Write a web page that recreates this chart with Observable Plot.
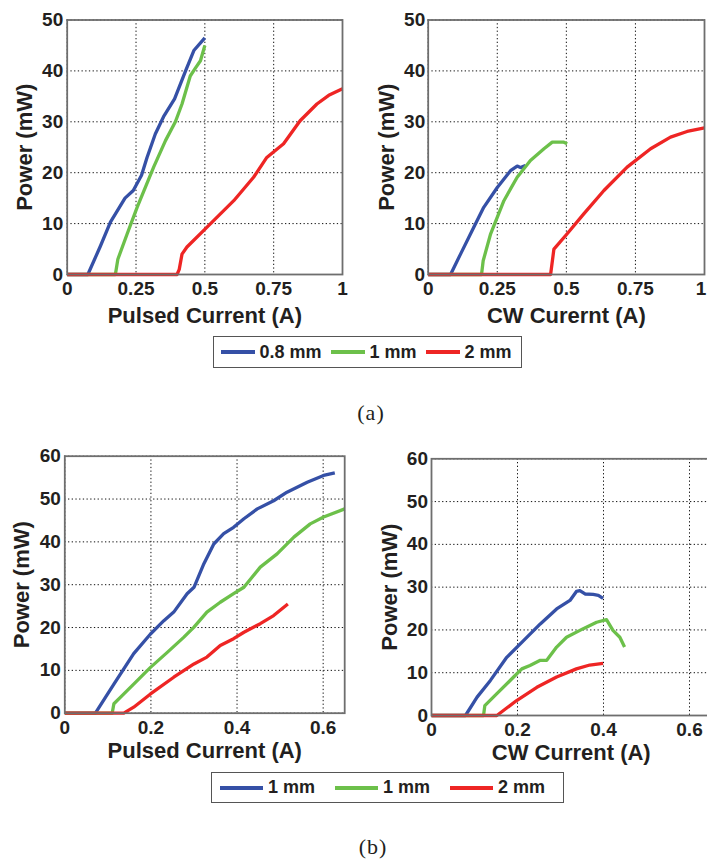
<!DOCTYPE html>
<html>
<head>
<meta charset="utf-8">
<script src="https://cdn.jsdelivr.net/npm/d3@7"></script>
<script src="https://cdn.jsdelivr.net/npm/@observablehq/plot@0.6"></script>
<style>
  html, body { margin: 0; padding: 0; background: #fff; overflow: hidden; }
  #page { position: relative; width: 707px; height: 859px; overflow: hidden; background: #fff;
          font-family: "Liberation Sans", Arial, sans-serif; color: #231f20; }
  .panel { position: absolute; }
  .legend { position: absolute; box-sizing: border-box; border: 1.6px solid #555; background: #fff;
            display: flex; align-items: center; font-weight: bold; font-size: 18px; }
  .legend .sw { display: inline-block; height: 4px; }
  .caption { position: absolute; font-family: "Liberation Serif", "Times New Roman", serif; font-size: 22px;
             transform: translate(-50%, -50%); color: #231f20; letter-spacing: 1px; }
</style>
</head>
<body>
<div id="page"></div>
<script>
// ---------- data ----------
const seriesNamesA = ["0.8 mm", "1 mm", "2 mm"];
const seriesNamesB = ["1 mm", "1 mm", "2 mm"];

const xTicksA = [0, 0.25, 0.5, 0.75, 1];
const xTickLabelsA = ["0", "0.25", "0.5", "0.75", "1"];
const yTicksA = [0, 10, 20, 30, 40, 50];
const xTicksB = [0, 0.2, 0.4, 0.6];
const xTickLabelsB = ["0", "0.2", "0.4", "0.6"];
const yTicksB = [0, 10, 20, 30, 40, 50, 60];

// (a) pulsed: [current A, power mW]
const aPulsed08 = [[0,0],[0.075,0],[0.12,5.5],[0.157,10.3],[0.21,15],[0.24,16.5],[0.27,19.5],[0.29,23],[0.32,27.6],[0.35,31],[0.39,34.5],[0.43,40],[0.46,44],[0.5,46.5]];
const aPulsed1 = [[0,0],[0.175,0],[0.184,3],[0.218,8],[0.254,13.2],[0.314,21.1],[0.357,26.3],[0.393,30],[0.417,33.5],[0.447,39],[0.465,40.5],[0.484,42],[0.5,45]];
const aPulsed2 = [[0,0],[0.399,0],[0.407,1],[0.417,4],[0.435,5.4],[0.508,9.3],[0.605,14.5],[0.677,19.1],[0.725,23],[0.786,25.7],[0.846,30.2],[0.907,33.5],[0.95,35.2],[1.0,36.5]];
// (a) CW
const aCw08 = [[0,0],[0.081,0],[0.117,4],[0.165,9.3],[0.201,13.2],[0.25,17.1],[0.298,20.4],[0.322,21.3],[0.334,21.0],[0.352,21.4]];
const aCw1 = [[0,0],[0.193,0],[0.199,2.7],[0.226,8],[0.274,14.5],[0.322,19.1],[0.37,22.4],[0.419,24.7],[0.449,26],[0.467,26],[0.491,26],[0.503,25.7]];
const aCw2 = [[0,0],[0.443,0],[0.455,5],[0.503,8],[0.563,11.9],[0.636,16.5],[0.72,21.1],[0.805,24.7],[0.877,27],[0.937,28.1],[1.0,28.8]];
// (b) pulsed
const bPulsed1a = [[0,0],[0.071,0],[0.114,6.8],[0.16,13.9],[0.199,18.5],[0.23,21.6],[0.253,23.6],[0.284,27.9],[0.3,29.4],[0.323,34.9],[0.346,39.5],[0.369,41.9],[0.392,43.4],[0.416,45.4],[0.447,47.7],[0.485,49.6],[0.516,51.6],[0.563,53.9],[0.601,55.5],[0.627,56.1]];
const bPulsed1b = [[0,0],[0.11,0],[0.114,2.2],[0.129,3.7],[0.16,6.8],[0.199,10.7],[0.238,14.2],[0.276,17.7],[0.3,20.1],[0.33,23.6],[0.361,25.9],[0.392,27.9],[0.416,29.4],[0.454,34.1],[0.493,37.2],[0.532,41.1],[0.57,44.2],[0.601,45.8],[0.65,47.7]];
const bPulsed2 = [[0,0],[0.137,0],[0.16,1.4],[0.199,4.5],[0.253,8.4],[0.3,11.5],[0.33,13.1],[0.361,15.8],[0.392,17.4],[0.416,18.9],[0.454,20.9],[0.485,22.8],[0.518,25.5]];
// (b) CW
const bCw1a = [[0,0],[0.079,0],[0.106,4.3],[0.137,8.2],[0.175,13.6],[0.214,17.5],[0.253,21.4],[0.291,24.9],[0.322,26.9],[0.337,29.0],[0.345,29.2],[0.357,28.4],[0.376,28.3],[0.388,28.1],[0.399,27.4]];
const bCw1b = [[0,0],[0.121,0],[0.124,2.3],[0.152,5.1],[0.191,9.0],[0.21,10.9],[0.229,11.7],[0.253,12.9],[0.268,12.9],[0.291,16.0],[0.314,18.3],[0.353,20.3],[0.384,21.8],[0.407,22.4],[0.422,19.9],[0.438,18.3],[0.449,16.0]];
const bCw2 = [[0,0],[0.152,0],[0.198,3.5],[0.245,6.6],[0.291,9.0],[0.337,10.9],[0.368,11.8],[0.399,12.2]];

// ---------- style ----------
const COLORS = ["#3550a6", "#6cc04a", "#ee2524"];
const FONT = "'Liberation Sans', Arial, sans-serif";

const page = document.getElementById("page");

function panel(o) {
  const xLabelMap = new Map(o.xTicks.map((t, i) => [t, o.xTickLabels[i]]));
  const axisOpts = {tickSize: 0, tickPadding: 7, fontSize: 19, fontWeight: "bold", label: null, tickFormat: d => xLabelMap.get(d)};
  const xAxes = o.lastDx
    ? [Plot.axisX(o.xTicks.slice(0, -1), axisOpts),
       Plot.axisX(o.xTicks.slice(-1), {...axisOpts, dx: o.lastDx})]
    : [Plot.axisX(o.xTicks, axisOpts)];
  const marks = [
    Plot.gridX(o.xTicks, {stroke: "#111", strokeOpacity: 1, strokeWidth: 1, strokeDasharray: "1.3,2.4"}),
    Plot.gridY(o.yTicks, {stroke: "#111", strokeOpacity: 1, strokeWidth: 1, strokeDasharray: "1.3,2.4"}),
    ...o.series.map((s, i) => Plot.line(s, {x: d => d[0], y: d => d[1], stroke: COLORS[i], strokeWidth: 3.3, strokeLinejoin: "round", strokeLinecap: "butt"})),
    Plot.frame({stroke: "#6e6e6e", strokeWidth: 1.8}),
    ...xAxes,
    Plot.axisY(o.yTicks, {tickSize: 0, tickPadding: o.yPad, fontSize: 19, fontWeight: "bold", label: null, tickFormat: d => String(d)}),
    Plot.text([o.xLabel], {text: d => d, frameAnchor: "bottom", dy: o.xLabelDy, fontSize: 22, fontWeight: "bold", textAnchor: "middle", lineAnchor: "middle"}),
    Plot.text([o.yLabel], {text: d => d, frameAnchor: "left", dx: -o.yLabelDx, rotate: -90, fontSize: 22, fontWeight: "bold", textAnchor: "middle", lineAnchor: "middle"})
  ];
  const svg = Plot.plot({
    width: o.width, height: o.height,
    marginLeft: o.ml, marginRight: o.mr, marginTop: o.mt, marginBottom: o.mb,
    x: {domain: o.xDomain},
    y: {domain: o.yDomain},
    style: {fontFamily: FONT, color: "#231f20", background: "transparent", overflow: "visible"},
    marks
  });
  svg.classList.add("panel");
  svg.style.left = o.left + "px";
  svg.style.top = o.top + "px";
  page.appendChild(svg);
}

panel({left: 0, top: 0, width: 350, height: 330, ml: 66.7, mr: 8, mt: 19.5, mb: 56,
  xDomain: [0, 1], yDomain: [0, 50], xTicks: xTicksA, xTickLabels: xTickLabelsA, yTicks: yTicksA,
  series: [aPulsed08, aPulsed1, aPulsed2], xLabel: "Pulsed Current (A)", yLabel: "Power (mW)",
  xLabelDy: 41, yLabelDx: 42, yPad: 4});
panel({left: 350, top: 0, width: 357, height: 330, ml: 77.7, mr: 3, mt: 19.5, mb: 56,
  xDomain: [0, 1], yDomain: [0, 50], xTicks: xTicksA, xTickLabels: xTickLabelsA, yTicks: yTicksA,
  series: [aCw08, aCw1, aCw2], xLabel: "CW Curernt (A)", yLabel: "Power (mW)",
  xLabelDy: 41, yLabelDx: 41, yPad: 3, lastDx: -3.5});
panel({left: 0, top: 430, width: 350, height: 340, ml: 64.3, mr: 5.8, mt: 25.7, mb: 57.3,
  xDomain: [0, 0.65], yDomain: [0, 60], xTicks: xTicksB, xTickLabels: xTickLabelsB, yTicks: yTicksB,
  series: [bPulsed1a, bPulsed1b, bPulsed2], xLabel: "Pulsed Current (A)", yLabel: "Power (mW)",
  xLabelDy: 38, yLabelDx: 42.6, yPad: 4});
panel({left: 350, top: 430, width: 362, height: 340, ml: 81, mr: 1.5, mt: 28.3, mb: 55,
  xDomain: [0, 0.65], yDomain: [0, 60], xTicks: xTicksB, xTickLabels: xTickLabelsB, yTicks: yTicksB,
  series: [bCw1a, bCw1b, bCw2], xLabel: "CW Current (A)", yLabel: "Power (mW)",
  xLabelDy: 37, yLabelDx: 41.7, yPad: 3.5});

function legend(names, o) {
  const box = document.createElement("div");
  box.className = "legend";
  Object.assign(box.style, {left: o.left + "px", top: o.top + "px", width: o.width + "px", height: o.height + "px", paddingLeft: o.padLeft + "px"});
  names.forEach((n, i) => {
    const sw = document.createElement("span");
    sw.className = "sw";
    sw.style.width = o.swatch + "px";
    sw.style.background = COLORS[i];
    sw.style.marginRight = o.swGap + "px";
    const t = document.createElement("span");
    t.textContent = n;
    if (i < names.length - 1) t.style.marginRight = o.itemGap + "px";
    box.appendChild(sw);
    box.appendChild(t);
  });
  page.appendChild(box);
}
legend(seriesNamesA, {left: 213, top: 336, width: 309, height: 32, padLeft: 6.5, swatch: 34, swGap: 5, itemGap: 9});
legend(seriesNamesB, {left: 211, top: 772, width: 353, height: 31, padLeft: 8, swatch: 43, swGap: 5, itemGap: 20});

function caption(text, x, y) {
  const c = document.createElement("div");
  c.className = "caption";
  c.textContent = text;
  c.style.left = x + "px";
  c.style.top = y + "px";
  page.appendChild(c);
}
caption("(a)", 371, 413);
caption("(b)", 373, 847);
</script>
</body>
</html>
